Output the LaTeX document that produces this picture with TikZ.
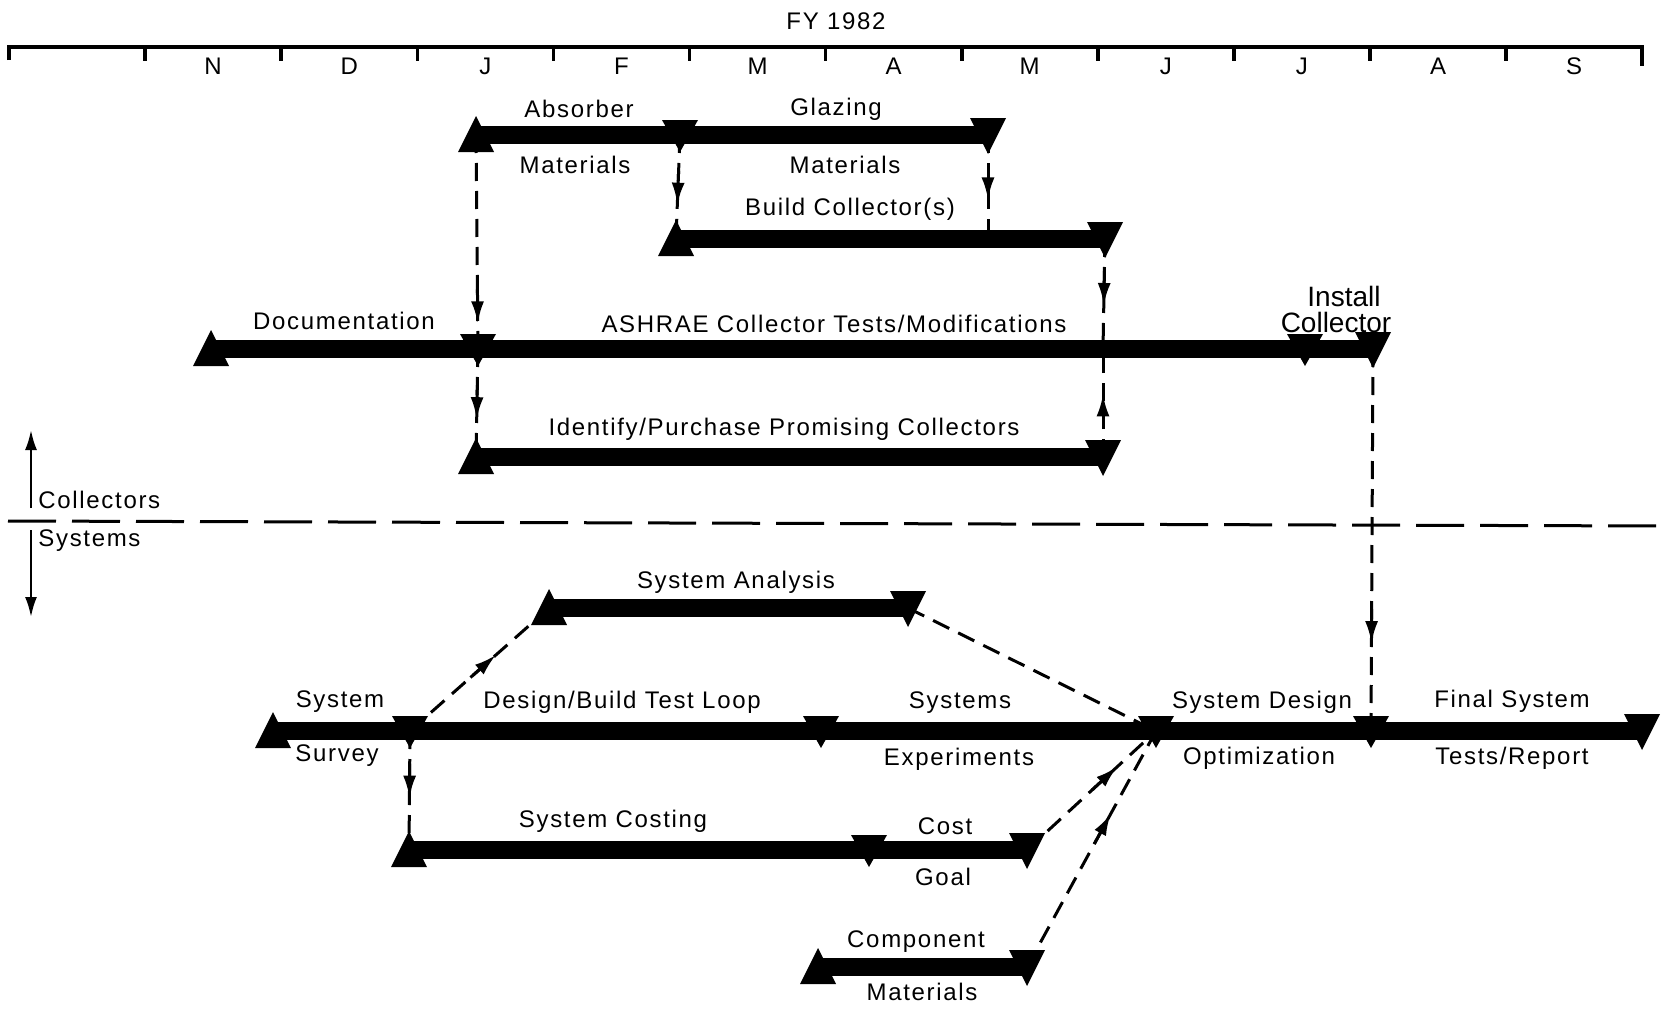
\documentclass[tikz,border=0pt]{standalone}
\usepackage{fontspec}
\setmainfont{Liberation Sans}[LetterSpace=7]
\usetikzlibrary{arrows.meta,positioning,calc,decorations.markings}

% task bar: name, y, x start, x end
\newcommand{\taskbar}[4]{%
  \coordinate (#1-s) at (#3,#2);
  \coordinate (#1-e) at (#4,#2);
  \fill (#3,#2-9) rectangle (#4,#2+9);
  \fill (#3-18,#2+17) -- (#3,#2-19) -- (#3+18,#2+17) -- cycle;
  \fill (#4-18,#2-17) -- (#4+18,#2-17) -- (#4,#2+19) -- cycle;
}
% milestone on a bar: name, y, x
\newcommand{\milestone}[3]{%
  \coordinate (#1) at (#3,#2);
  \fill (#3-18,#2-15) -- (#3+18,#2-15) -- (#3,#2+17) -- cycle;
}

\tikzset{
  lbl/.style={inner sep=0pt},
  depline/.style={line width=1.5pt, dash pattern=on 9pt off 5pt},
  arrowat/.style={postaction={decorate,decoration={markings,
      mark=at position #1 with {\draw[solid,line width=1.5pt,-{Latex[length=11pt,width=6.5pt]}] (-17pt,0) -- (0,0);}}}},
}

\begin{document}
\begin{tikzpicture}[x=0.5pt,y=-0.5pt,font=\fontsize{12}{14}\selectfont]
  \useasboundingbox (0,0) rectangle (1666,1012);

  % time scale
  \node[lbl] (fy) at (836,21) {FY 1982};
  \draw[line width=1.8pt] (9,60) -- (9,47) -- (1642,47) -- (1642,66);
  \foreach \i in {1,...,11}
    \draw[line width=1.8pt] (9+136.1*\i,47) -- ++(0,14);
  \foreach \m [count=\i] in {N,D,J,F,M,A,M,J,J,A,S}
    \node[lbl] (month\i) at (9+136.1*\i+68,66) {\m};

  % collector tasks
  \taskbar{mat}{135}{476}{988}
  \milestone{absorber}{135}{680}
  \taskbar{build}{239}{676}{1105}
  \taskbar{ashrae}{349}{211}{1373}
  \milestone{documentation}{349}{478}
  \milestone{install}{349}{1305}
  \taskbar{ident}{457}{476}{1103}
  \coordinate (build-c) at (988,239);
  \coordinate (ashrae-c) at (1103,349);

  \node[lbl] (absorbtxt) at (579,109) {Absorber};
  \node[lbl] (absmattxt) at (575,165) {Materials};
  \node[lbl] (glazetxt) at (836,109) {Glazing};
  \node[lbl] (glazmattxt) at (845,165) {Materials};
  \node[lbl] (buildtxt) at (850,209) {Build Collector(s)};
  \node[lbl] (doctxt) at (344,321) {Documentation};
  \node[lbl] (ashraetxt) at (834,324) {ASHRAE Collector Tests/Modifications};
  \node[lbl,font=\fontsize{14}{14}\selectfont\addfontfeature{LetterSpace=0}]
    (installtxt) at (1344,296) {Install};
  \node[lbl,font=\fontsize{14}{14}\selectfont\addfontfeature{LetterSpace=0}]
    (installtxt2) at (1336,322) {Collector};
  \node[lbl] (identtxt) at (784,429) {Identify/Purchase Promising Collectors};

  \draw[depline,arrowat=0.88] (mat-s) -- (documentation);
  \draw[depline,arrowat=0.67] (absorber) -- (build-s);
  \draw[depline,arrowat=0.62] (mat-e) -- (build-c);
  \draw[depline,arrowat=0.6] (build-e) -- (ashrae-c);
  \draw[depline,arrowat=0.58] (ident-e) -- (ashrae-c);
  \draw[depline,arrowat=0.65] (documentation) -- (ident-s);

  % split between collectors and systems
  \draw[line width=1.5pt,dash pattern=on 24pt off 8pt] (8,521) -- (1666,526);
  \node[lbl,anchor=west] (colltxt) at (38,500) {Collectors};
  \node[lbl,anchor=west] (systxt) at (38,541) {Systems};
  \coordinate (up) at (31,430);
  \coordinate (down) at (31,617);
  \draw[line width=1.2pt,-{Latex[length=10pt,width=6pt]}] (31,508) -- (up);
  \draw[line width=1.2pt,-{Latex[length=10pt,width=6pt]}] (31,530) -- (down);

  % system tasks
  \taskbar{analysis}{608}{549}{908}
  \taskbar{sys}{731}{273}{1642}
  \milestone{survey}{731}{410}
  \milestone{loop}{731}{821}
  \milestone{experiments}{731}{1156}
  \milestone{optim}{731}{1371}
  \taskbar{cost}{850}{409}{1027}
  \milestone{costing}{850}{869}
  \taskbar{comp}{967}{818}{1027}

  \node[lbl] (analysistxt) at (736,582) {System Analysis};
  \node[lbl] (survtxt) at (340,702) {System};
  \node[lbl] (survtxt2) at (337,756) {Survey};
  \node[lbl] (looptxt) at (622,702) {Design/Build Test Loop};
  \node[lbl] (exptxt) at (960,703) {Systems};
  \node[lbl] (exptxt2) at (959,759) {Experiments};
  \node[lbl] (opttxt) at (1262,702) {System Design};
  \node[lbl] (opttxt2) at (1259,758) {Optimization};
  \node[lbl] (finaltxt) at (1512,701) {Final System};
  \node[lbl] (finaltxt2) at (1512,758) {Tests/Report};
  \node[lbl] (costtxt) at (613,821) {System Costing};
  \node[lbl] (goaltxt) at (945,826) {Cost};
  \node[lbl] (goaltxt2) at (943,877) {Goal};
  \node[lbl] (comptxt) at (916,942) {Component};
  \node[lbl] (comptxt2) at (922,992) {Materials};

  \draw[depline,arrowat=0.77] (ashrae-e) -- (optim);
  \draw[depline,arrowat=0.62] (survey) -- (analysis-s);
  \draw[depline] (analysis-e) -- (experiments);
  \draw[depline,arrowat=0.56] (survey) -- (cost-s);
  \draw[depline,arrowat=0.7] (cost-e) -- (experiments);
  \draw[depline,arrowat=0.65] (comp-e) -- (experiments);

\end{tikzpicture}
\end{document}
